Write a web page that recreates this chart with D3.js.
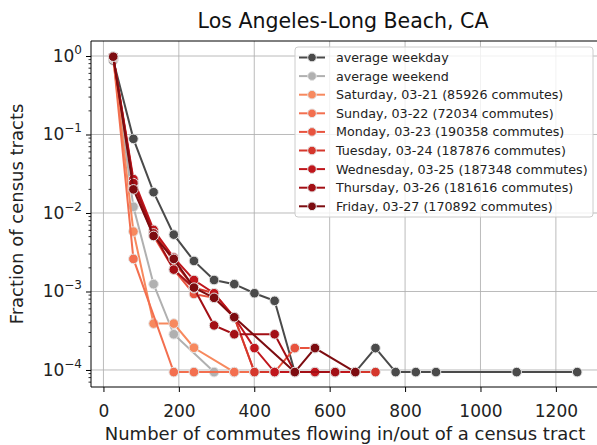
<!DOCTYPE html>
<html>
<head>
<meta charset="utf-8">
<title>Los Angeles-Long Beach, CA</title>
<script src="https://d3js.org/d3.v7.min.js"></script>
<style>
  body { margin: 0; background: #fff; }
  svg { font-family: "DejaVu Sans", sans-serif; }
  .grid line { stroke: #b0b0b0; stroke-width: 1; opacity: 0.85; }
  .tick-label { font-size: 17px; fill: #222; }
</style>
</head>
<body>
<div id="chart"></div>
<script>
// bin centers (number of commutes)
const bins = [26, 79.5, 133, 186.5, 240, 293.5, 347, 400.5, 454, 507.5, 561, 614.5,
              668, 721.5, 775, 828.5, 882, 935.5, 989, 1042.5, 1096, 1149.5, 1203, 1256.5];

// fraction of census tracts per bin (null = no tract in that bin)
const weekdayAvg = [0.88, 0.088, 0.0184, 0.0053, 0.00245, 0.0014, 0.00124, 0.00095, 0.00076,
                    9.4e-5, 9.4e-5, 9.4e-5, 9.4e-5, 1.9e-4, 9.4e-5, 9.4e-5, 9.4e-5,
                    null, null, null, 9.4e-5, null, null, 9.4e-5];
const weekendAvg = [0.92, 0.012, 0.00124, 2.85e-4, null, 9.4e-5];
const saturday   = [0.95, 0.0058, 3.9e-4, 3.9e-4, 1.92e-4, null, 9.4e-5];
const sunday     = [0.97, 0.0026, null, 9.4e-5, 9.4e-5, null, 9.4e-5, 9.4e-5];
const monday     = [0.95, 0.022, 0.0051, 0.0019, 0.00093, 0.00083, 4.7e-4, 9.4e-5, 9.4e-5, 1.9e-4, 1.9e-4];
const tuesday    = [0.98, 0.025, 0.0058, 0.0024, 0.00112, 0.00095, 4.7e-4, 9.4e-5, 9.4e-5, null, 9.4e-5, 9.4e-5, null, 9.4e-5];
const wednesday  = [0.98, 0.027, 0.0061, 0.0027, 0.0014, 0.00095, 4.7e-4, 1.9e-4, 9.4e-5, null, 9.4e-5, null, 9.4e-5];
const thursday   = [0.98, 0.024, 0.0055, 0.0019, 0.0011, 3.7e-4, 2.85e-4, null, 2.85e-4, 9.4e-5, null, 9.4e-5];
const friday     = [0.98, 0.020, 0.0051, 0.0026, 0.00112, 0.00083, 4.7e-4, null, null, 9.4e-5, 1.9e-4, null, 9.4e-5];

const seriesNames = ["average weekday", "average weekend",
  "Saturday, 03-21 (85926 commutes)", "Sunday, 03-22 (72034 commutes)",
  "Monday, 03-23 (190358 commutes)", "Tuesday, 03-24 (187876 commutes)",
  "Wednesday, 03-25 (187348 commutes)", "Thursday, 03-26 (181616 commutes)",
  "Friday, 03-27 (170892 commutes)"];
const seriesValues = [weekdayAvg, weekendAvg, saturday, sunday, monday, tuesday, wednesday, thursday, friday];
const seriesColors = ["#4a4a4a", "#b0b0b0", "#f7895e", "#f36f4f", "#e8533e",
                      "#d5372c", "#c0161c", "#a30f15", "#7d0c10"];

const xTicks = [0, 200, 400, 600, 800, 1000, 1200];
const yTicks = [1, 1e-1, 1e-2, 1e-3, 1e-4];
const yExponents = ["0", "\u22121", "\u22122", "\u22123", "\u22124"];

const width = 597, height = 445;
const mLeft = 91, mRight = 600, mTop = 41, mBottom = 387;

const svg = d3.select("#chart").append("svg")
    .attr("width", width).attr("height", height);

const x = d3.scaleLinear().domain([-33, 1317]).range([mLeft, mRight]);
const y = d3.scaleLog().domain([6.07e-5, 1.553]).range([mBottom, mTop]);

// grid
const grid = svg.append("g").attr("class", "grid");
grid.selectAll(".gx").data(xTicks).enter().append("line")
    .attr("x1", d => x(d)).attr("x2", d => x(d))
    .attr("y1", mTop).attr("y2", mBottom);
grid.selectAll(".gy").data(yTicks).enter().append("line")
    .attr("x1", mLeft).attr("x2", mRight)
    .attr("y1", d => y(d)).attr("y2", d => y(d));

// axes
const xAxis = svg.append("g")
    .attr("transform", `translate(0,${mBottom})`)
    .call(d3.axisBottom(x).tickValues(xTicks).tickSize(5).tickPadding(13).tickFormat(d3.format("d")));
xAxis.selectAll("text").attr("class", "tick-label").style("font-family", "DejaVu Sans");

const yAxis = svg.append("g")
    .attr("transform", `translate(${mLeft},0)`)
    .call(d3.axisLeft(y).tickValues(yTicks).tickSize(5).tickFormat(""));

// minor ticks on the log axis
const minor = [];
for (let e = -5; e <= 0; e++) {
  for (let m = 2; m <= 9; m++) {
    const v = m * Math.pow(10, e);
    if (v > y.domain()[0] && v < y.domain()[1]) minor.push(v);
  }
}
svg.append("g").selectAll("line").data(minor).enter().append("line")
    .attr("x1", mLeft - 2.5).attr("x2", mLeft)
    .attr("y1", d => y(d)).attr("y2", d => y(d))
    .attr("stroke", "#000").attr("stroke-width", 0.8);

const yl = svg.append("g").selectAll("text").data(yTicks).enter().append("text")
    .attr("x", mLeft - 9).attr("y", d => y(d) + 6)
    .attr("text-anchor", "end").attr("class", "tick-label");
yl.append("tspan").text("10");
yl.append("tspan").attr("dy", -8).style("font-size", "12px").text((d, i) => yExponents[i]);

[xAxis, yAxis].forEach(a => {
  a.select(".domain").remove();
  a.selectAll(".tick line").attr("stroke", "#000").attr("stroke-width", 1);
});

// spines
svg.append("line").attr("x1", mLeft).attr("x2", mRight).attr("y1", mBottom).attr("y2", mBottom).attr("stroke", "#000");
svg.append("line").attr("x1", mLeft).attr("x2", mRight).attr("y1", mTop).attr("y2", mTop).attr("stroke", "#000");
svg.append("line").attr("x1", mLeft).attr("x2", mLeft).attr("y1", mTop).attr("y2", mBottom).attr("stroke", "#000");

// series
const line = d3.line().x(d => x(d[0])).y(d => y(d[1]));
const plot = svg.append("g");
seriesValues.forEach((vals, i) => {
  const pts = vals.map((v, k) => [bins[k], v]).filter(p => p[1] != null);
  const g = plot.append("g");
  g.append("path").datum(pts).attr("d", line)
      .attr("fill", "none").attr("stroke", seriesColors[i]).attr("stroke-width", 2);
  g.selectAll("circle").data(pts).enter().append("circle")
      .attr("cx", d => x(d[0])).attr("cy", d => y(d[1])).attr("r", 4.8)
      .attr("fill", seriesColors[i]).attr("stroke", "#e4e4e4").attr("stroke-width", 1);
});

// legend
const lg = svg.append("g");
lg.append("rect").attr("x", 295).attr("y", 47).attr("width", 298).attr("height", 170)
    .attr("rx", 3).attr("fill", "#fff").attr("fill-opacity", 0.8)
    .attr("stroke", "#cccccc").attr("stroke-width", 1);
seriesNames.forEach((name, i) => {
  const cy = 57.5 + i * 18.6;
  lg.append("line").attr("x1", 299).attr("x2", 325).attr("y1", cy).attr("y2", cy)
      .attr("stroke", seriesColors[i]).attr("stroke-width", 2);
  lg.append("circle").attr("cx", 312).attr("cy", cy).attr("r", 4.3)
      .attr("fill", seriesColors[i]).attr("stroke", "#e4e4e4").attr("stroke-width", 1);
  lg.append("text").attr("x", 336).attr("y", cy + 4.5)
      .style("font-size", "12.7px").attr("fill", "#222").text(name);
});

// titles
svg.append("text").attr("x", 343).attr("y", 28).attr("text-anchor", "middle")
    .style("font-size", "20.5px").attr("fill", "#111").text("Los Angeles-Long Beach, CA");
svg.append("text").attr("x", 345).attr("y", 440).attr("text-anchor", "middle")
    .style("font-size", "18px").attr("fill", "#222")
    .text("Number of commutes flowing in/out of a census tract");
svg.append("text").attr("transform", `translate(23,${(mTop + mBottom) / 2}) rotate(-90)`)
    .attr("text-anchor", "middle").style("font-size", "18px").attr("fill", "#222")
    .text("Fraction of census tracts");
</script>
</body>
</html>
